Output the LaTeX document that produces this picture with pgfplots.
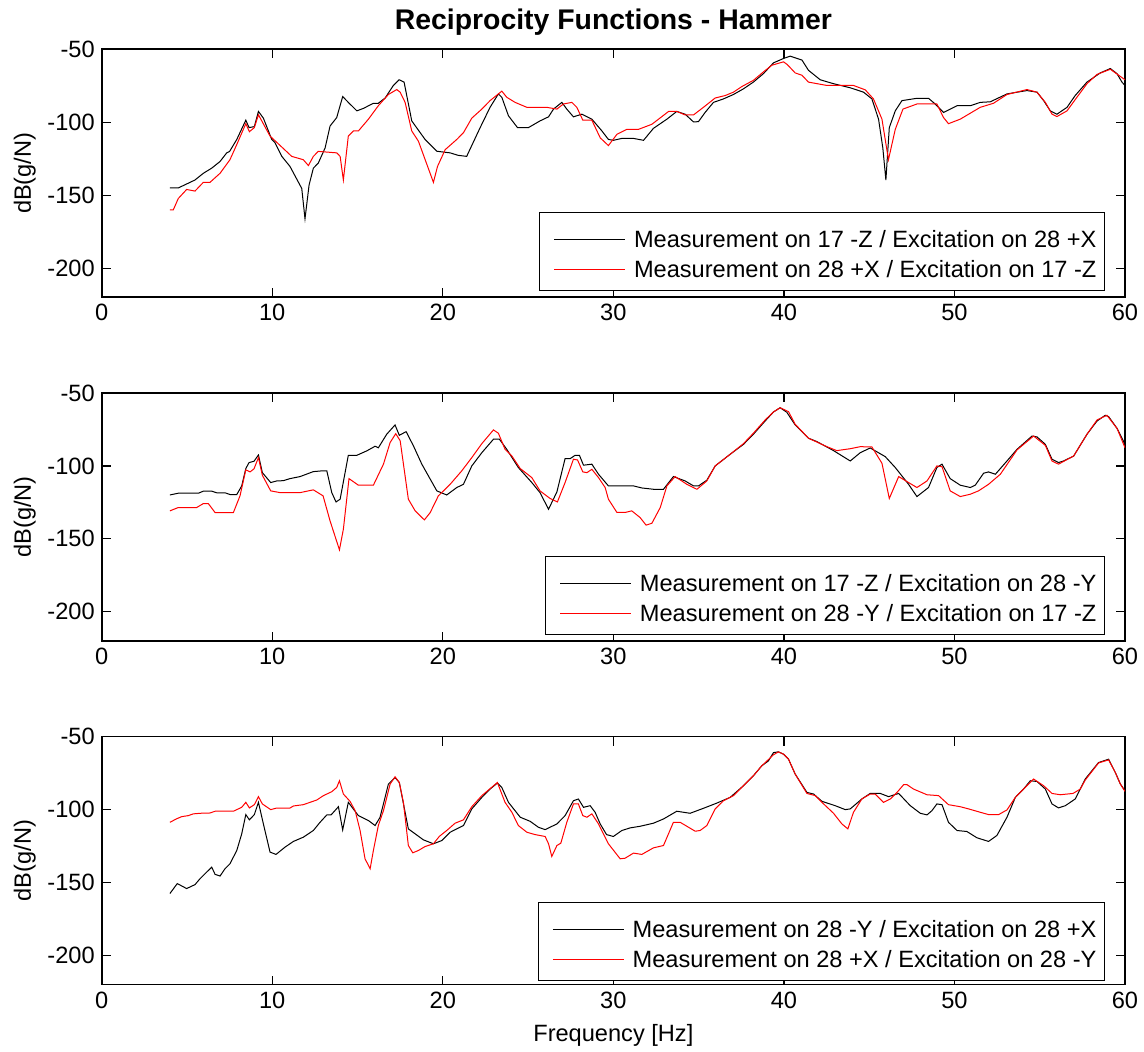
\documentclass[border=0pt]{standalone}
\usepackage{fontspec}
\setmainfont{Liberation Sans}
\usepackage{pgfplots}
\pgfplotsset{compat=1.18}
\newcommand\tf{\fontsize{11.8}{14}\selectfont}
\pgfplotsset{
  myax/.style={
    scale only axis, width=511.65pt, height=124pt, anchor=south west,
    xmin=0, xmax=60, ymin=-220, ymax=-50,
    xtick={0,10,20,30,40,50,60}, xticklabels={0,10,20,30,40,50,60},
    ytick={-200,-150,-100,-50}, yticklabels={-200,-150,-100,-50},
    tick align=inside, major tick length=4.5pt,
    axis line style={line width=0.8pt},
    every tick/.style={black, line width=0.6pt},
    tick label style={font=\tf},
    ylabel={dB(g/N)},
    ylabel style={font=\tf, at={(axis description cs:-0.064,0.5)}, anchor=south, inner sep=0pt},
    legend style={at={(0.9805,0.025)}, anchor=south east, draw=black, line width=0.6pt,
      inner xsep=3pt, inner ysep=5pt, font=\tf, row sep=1pt,
      nodes={text height=12.25pt, text depth=0.75pt, inner ysep=0.5pt, inner xsep=1pt},
      /tikz/every odd column/.append style={column sep=3.2pt}},
    legend cell align=left,
    legend image code/.code={\path (0pt,0pt); \draw[#1,line width=0.5pt] (4pt,-1.5pt) -- (39.5pt,-1.5pt);},
  },
  kline/.style={black, line width=0.5pt, no markers},
  rline/.style={red, line width=0.5pt, no markers},
}
\begin{document}
\begin{tikzpicture}
\path[use as bounding box] (0,0) rectangle (572pt,526pt);
% ---------------- top ----------------
\begin{axis}[myax, at={(50.85pt,377.35pt)},
  title={Reciprocity Functions - Hammer},
  title style={at={(axis description cs:0.5,1)}, anchor=base, yshift=3.65pt, inner sep=0pt,
    font=\bfseries\fontsize{14.2}{16}\selectfont}]
\addplot[kline] coordinates {
(4.0,-145) (4.5,-145) (5.47,-139.6) (5.96,-135) (6.45,-131.5) (6.94,-126.9) (7.33,-121) (7.5,-120)
(7.92,-111.8) (8.45,-98.6) (8.64,-103.7) (8.95,-103) (9.19,-92.6) (9.48,-97.2) (9.97,-111.8) (10.16,-114)
(10.56,-123.4) (11.04,-130.3) (11.73,-145.4) (11.92,-166.2) (12.16,-143) (12.41,-131.5) (12.7,-128)
(13.1,-117.6) (13.39,-102.6) (13.78,-96.8) (14.13,-82.4) (14.46,-86.4) (14.96,-92.2) (15.35,-90.5)
(15.93,-87) (16.22,-87) (16.62,-83.4) (17.1,-74.8) (17.44,-70.9) (17.73,-72.5) (18.18,-99.1) (18.96,-111.8)
(19.65,-119.9) (20.43,-121) (20.9,-122.7) (21.4,-123.4) (22.19,-103.7) (22.77,-89.8) (23.26,-80.6)
(23.46,-82.9) (23.85,-95.6) (24.38,-103.7) (25.02,-103.7) (25.7,-99.1) (26.2,-96.3) (26.49,-91)
(26.98,-86.4) (27.27,-91) (27.66,-96.3) (28.15,-94.5) (28.74,-97.9) (29.33,-106) (29.71,-111.8)
(30.0,-112.4) (30.5,-111.1) (31.18,-111.1) (31.77,-112.4) (32.35,-104.2) (33.14,-97.9) (33.72,-92.6)
(34.21,-94.5) (34.7,-99.8) (34.99,-99.6) (35.38,-93.3) (35.87,-86.4) (36.46,-84) (37.04,-81)
(37.63,-77.1) (38.21,-72.5) (38.8,-66.7) (39.39,-59.3) (39.98,-56.3) (40.37,-54.7) (41.06,-57.4)
(41.44,-64.4) (42.13,-70.9) (42.91,-73.6) (43.89,-76.4) (44.67,-79.4) (45.16,-84) (45.55,-97.9)
(45.8,-117.6) (45.98,-139.6) (46.18,-103.7) (46.53,-92.2) (46.92,-85.2) (47.8,-83.6) (48.48,-83.6)
(48.87,-87.5) (49.36,-93.3) (50.15,-88.7) (50.93,-88.7) (51.51,-86.4) (52.1,-86) (53.08,-80.6)
(54.25,-78.3) (54.84,-79.4) (55.23,-85.2) (55.62,-92.2) (56.01,-94.5) (56.6,-89.8) (57.08,-81.7)
(57.77,-72.5) (58.55,-66.2) (59.14,-63.2) (59.53,-66.7) (59.82,-72.5) (60.0,-74.8)
};
\addlegendentry{Measurement on 17 -Z / Excitation on 28 +X}
\addplot[rline] coordinates {
(4.0,-160) (4.2,-160) (4.49,-152.3) (4.98,-146.1) (5.47,-147.2) (5.96,-141.2) (6.35,-141.2) (6.94,-135)
(7.52,-125.7) (7.92,-115.3) (8.45,-101) (8.66,-106.5) (8.95,-103.7) (9.19,-94.9) (9.87,-109.5)
(10.65,-118) (11.14,-123.4) (11.82,-125.7) (12.12,-129.7) (12.41,-123.4) (12.7,-120) (13.78,-121)
(13.98,-123.4) (14.17,-139.6) (14.46,-109.5) (14.76,-106) (15.05,-106) (15.64,-97.9) (16.22,-88.7)
(16.81,-81) (17.3,-77.6) (17.5,-79.4) (17.79,-86.4) (18.18,-106) (18.57,-113) (19.45,-141.2)
(19.69,-130.3) (20.14,-118.8) (20.82,-111.8) (21.21,-107.2) (21.7,-97.2) (22.29,-91) (22.77,-85.2)
(23.46,-78.7) (23.75,-82.9) (24.24,-86.4) (24.93,-89.8) (26.1,-89.8) (26.69,-91) (27.07,-87.5)
(27.57,-86.4) (27.86,-89.8) (28.21,-98.6) (28.74,-98.6) (29.23,-110.7) (29.71,-116) (30.21,-108.3)
(30.79,-104.9) (31.47,-104.9) (32.26,-101.4) (33.24,-92.6) (33.72,-92.6) (34.21,-95) (34.7,-95)
(35.28,-89.8) (35.97,-83.4) (36.56,-81.7) (37.04,-79.4) (37.54,-75.5) (38.21,-71.3) (38.8,-65.5)
(39.3,-60.9) (39.98,-58.6) (40.2,-60.5) (40.66,-66.2) (41.06,-67.8) (41.44,-72.5) (42.52,-74.8)
(44.08,-74.8) (44.77,-77.8) (45.25,-84) (45.75,-97.9) (46.13,-125.7) (46.53,-104.9) (46.98,-91)
(47.8,-87.5) (48.97,-87.5) (49.36,-96.8) (49.65,-101) (50.34,-97.9) (51.51,-89.8) (52.29,-87)
(53.08,-81) (54.25,-77.6) (54.84,-79.4) (55.33,-86.4) (55.72,-94.5) (56.01,-96.1) (56.6,-92.2)
(57.18,-82.9) (57.77,-73.6) (58.36,-67.2) (59.14,-63.7) (60.0,-70.9)
};
\addlegendentry{Measurement on 28 +X / Excitation on 17 -Z}
\end{axis}
% ---------------- middle ----------------
\begin{axis}[myax, at={(50.85pt,205.5pt)}]
\addplot[kline] coordinates {
(4.0,-119.9) (4.49,-118.7) (5.67,-118.7) (5.96,-117.3) (6.45,-117.3) (6.74,-118.4) (7.23,-118.4)
(7.52,-119.6) (7.92,-119.6) (8.21,-113.7) (8.45,-101.8) (8.64,-97.7) (8.93,-96.8) (9.19,-92.5)
(9.42,-104.6) (9.91,-111.4) (10.26,-110.3) (10.65,-110.1) (11.04,-108.7) (11.63,-107.3) (12.41,-103.9)
(12.9,-103.4) (13.2,-103.4) (13.49,-118.3) (13.74,-124.7) (13.98,-122.8) (14.46,-92.7) (14.96,-92.7)
(15.54,-89.7) (16.03,-86.5) (16.22,-87.6) (16.71,-78.3) (17.2,-71.9) (17.45,-79) (17.85,-76.5)
(18.28,-86.3) (18.77,-98.8) (19.65,-117.1) (20.23,-119.9) (20.82,-114.8) (21.21,-112.6) (21.7,-100)
(22.29,-90.9) (22.97,-81.7) (23.32,-81.7) (23.75,-88.6) (24.43,-101.1) (25.22,-111.4) (25.7,-118.3)
(26.2,-129.7) (26.69,-117.8) (27.17,-95) (27.47,-95) (27.76,-92.7) (28.01,-92.7) (28.25,-99.5)
(28.74,-98.8) (29.13,-105.7) (29.71,-113.7) (31.18,-113.7) (31.67,-115.1) (32.35,-116) (32.94,-116)
(33.52,-107.3) (34.21,-110.3) (34.7,-113.7) (34.99,-113.7) (35.48,-109.8) (35.97,-100) (36.85,-92)
(37.63,-85.2) (38.21,-78.3) (38.9,-69.2) (39.39,-63) (39.78,-60.1) (40.17,-63.2) (40.66,-71.9)
(41.44,-81) (41.93,-83.3) (42.91,-89.5) (43.89,-96.6) (44.48,-90.9) (45.06,-87.7) (45.94,-93.6)
(46.53,-101.1) (47.31,-112.6) (47.8,-121) (48.48,-114.8) (48.97,-101.1) (49.27,-98.8) (49.75,-108.7)
(50.34,-113.2) (50.93,-114.8) (51.22,-113.2) (51.71,-105) (52.0,-104.1) (52.4,-105.7) (53.08,-96.6)
(53.67,-88.6) (54.55,-79.5) (54.84,-80.1) (55.33,-85.2) (55.72,-95.4) (56.1,-97.7) (56.4,-96.6)
(56.99,-93.2) (57.77,-78.3) (58.36,-69.2) (58.84,-65.3) (59.04,-66.2) (59.53,-74.2) (59.92,-83.3)
(60.0,-86.8)
};
\addlegendentry{Measurement on 17 -Z / Excitation on 28 -Y}
\addplot[rline] coordinates {
(4.0,-130.8) (4.49,-128.5) (5.57,-128.5) (5.96,-125.8) (6.25,-125.8) (6.65,-132) (7.72,-132)
(8.11,-120.5) (8.45,-102.7) (8.7,-104.1) (8.93,-102) (9.19,-94.3) (9.42,-106.4) (9.91,-117.1)
(10.46,-118.3) (11.63,-118.3) (12.41,-116.4) (12.98,-120.5) (13.39,-137.7) (13.94,-157.5)
(14.17,-143.4) (14.5,-108.7) (15.05,-113.2) (15.93,-113.2) (16.52,-98.8) (16.91,-84) (17.24,-77.9)
(17.5,-82.7) (17.98,-122.8) (18.38,-130.8) (18.92,-137) (19.26,-132) (19.74,-120.5) (20.43,-112.6)
(21.11,-103.4) (21.7,-94.3) (22.29,-84.7) (22.97,-75.3) (23.26,-77.6) (23.65,-88.6) (24.05,-93.2)
(24.54,-101.8) (25.22,-108) (25.7,-117.1) (26.29,-122.3) (26.72,-124.7) (27.17,-111.4) (27.66,-95.4)
(27.9,-95.9) (28.21,-104.1) (28.45,-104.6) (28.74,-102.3) (29.13,-108) (29.52,-114.8) (29.71,-122.8)
(30.21,-131.9) (30.69,-131.9) (31.08,-130.8) (31.57,-135.4) (31.92,-140.6) (32.26,-139.3)
(32.75,-128.5) (33.14,-113.7) (33.62,-107.3) (34.31,-112.6) (34.9,-116) (35.48,-110.3) (35.97,-100)
(36.85,-92) (37.63,-84.7) (38.21,-77.6) (38.9,-68.5) (39.39,-63) (39.78,-60.1) (40.27,-62.8)
(40.66,-71.4) (41.44,-81) (42.52,-86.8) (43.1,-89.5) (43.89,-88.2) (44.48,-86.8) (45.16,-87)
(45.75,-98.2) (46.18,-122.3) (46.73,-107.3) (47.31,-111.4) (47.8,-114.8) (48.39,-110.3) (48.97,-100)
(49.27,-100.5) (49.75,-117.1) (50.34,-121) (50.93,-119.4) (51.41,-117.1) (52.0,-112.6) (52.69,-105.7)
(53.67,-89) (54.64,-79.5) (55.33,-85.9) (55.72,-96.6) (56.1,-98.8) (56.99,-93.2) (57.77,-78.3)
(58.36,-68.5) (58.94,-65.3) (59.53,-74.2) (60.0,-87.5)
};
\addlegendentry{Measurement on 28 -Y / Excitation on 17 -Z}
\end{axis}
% ---------------- bottom ----------------
\begin{axis}[myax, at={(50.85pt,33.65pt)},
  legend style={at={(0.9805,0.015)}},
  xlabel={Frequency [Hz]},
  xlabel style={font=\tf, at={(axis description cs:0.5,0)}, anchor=base, yshift=-28.4pt, inner sep=0pt}]
\addplot[kline] coordinates {
(4.0,-157.5) (4.43,-150.7) (4.98,-154.1) (5.47,-151.4) (5.77,-147.3) (6.45,-139.4) (6.65,-144.4)
(6.94,-145.5) (7.23,-140.5) (7.52,-137.1) (7.92,-128) (8.21,-116.6) (8.45,-103.4) (8.66,-107)
(8.95,-103.4) (9.19,-95) (9.48,-109.8) (9.87,-129.1) (10.22,-130.7) (10.75,-125.7) (11.24,-121.8)
(11.82,-118.9) (12.41,-114.3) (12.8,-108.7) (13.2,-103.6) (13.45,-103.6) (13.88,-98) (14.13,-113.9)
(14.46,-95) (15.05,-104.1) (15.64,-107.5) (16.03,-110.9) (16.32,-105.3) (16.81,-82.5) (17.2,-78)
(17.45,-81.4) (17.98,-113.2) (18.38,-116.6) (18.86,-120.7) (19.45,-123.4) (19.94,-121.2)
(20.43,-115.5) (21.21,-110.9) (21.7,-99.5) (22.29,-91.6) (22.77,-85.9) (23.2,-81.8) (23.46,-84.8)
(23.85,-95) (24.54,-105.2) (25.12,-108) (25.61,-112.1) (26.0,-113.7) (26.69,-109.8) (27.17,-104.1)
(27.66,-93.9) (27.95,-92.7) (28.25,-98.4) (28.64,-97.3) (28.93,-101.8) (29.23,-109.8) (29.6,-117.1)
(30.0,-118.4) (30.5,-114.3) (30.99,-112.5) (31.57,-111.4) (32.35,-109.3) (32.94,-106.4) (33.72,-101.1)
(34.5,-102.5) (35.28,-99.1) (36.07,-95.5) (36.85,-91.6) (37.63,-83.6) (38.21,-76.8) (38.7,-70)
(39.09,-66.6) (39.39,-60.9) (39.68,-60.4) (39.98,-62) (40.27,-65.4) (40.66,-75.6) (41.35,-88.2)
(41.74,-89.3) (42.23,-94.3) (43.01,-97.3) (43.6,-100) (43.89,-99.5) (44.57,-92.7) (45.06,-88.9)
(45.65,-88.9) (46.14,-91.1) (46.73,-88.9) (47.41,-97.3) (48.0,-102.5) (48.39,-103.6) (48.68,-100.7)
(48.97,-96.1) (49.27,-96.6) (49.65,-108.7) (50.15,-114.3) (50.73,-115) (51.32,-119.3) (52.0,-121.8)
(52.49,-117.7) (53.08,-105.2) (53.57,-91.6) (54.05,-85.9) (54.45,-80.2) (54.84,-80.7) (55.33,-85.9)
(55.72,-96.1) (56.1,-98.8) (56.5,-97.3) (57.08,-92.7) (57.67,-79) (58.45,-67.7) (59.04,-65.4)
(59.43,-74.5) (59.73,-82.5) (60.0,-87)
};
\addlegendentry{Measurement on 28 -Y / Excitation on 28 +X}
\addplot[rline] coordinates {
(4.0,-108.7) (4.37,-106.4) (4.69,-104.8) (5.08,-104.1) (5.37,-102.9) (5.77,-102.5) (6.35,-102.3)
(6.65,-101.1) (7.72,-101.1) (8.21,-98.4) (8.45,-95) (8.66,-98.8) (8.95,-96.6) (9.19,-91.1) (9.42,-96.1)
(9.91,-100) (10.26,-98.9) (11.04,-98.9) (11.24,-97.5) (11.82,-96.6) (12.61,-93.4) (13.0,-90.4)
(13.49,-87.7) (13.78,-84.8) (13.94,-80.2) (14.17,-89.3) (14.56,-94.3) (14.86,-100.7) (15.15,-114.3)
(15.44,-133.7) (15.74,-140.5) (15.93,-128) (16.22,-110.9) (16.52,-100.7) (16.91,-82.5) (17.2,-77.5)
(17.45,-81.4) (17.69,-95) (17.98,-124.6) (18.24,-129.6) (18.57,-128) (18.96,-125.3) (19.45,-123.4)
(19.8,-118.3) (20.23,-114.3) (20.72,-109.3) (21.21,-107) (21.7,-98) (22.29,-90.4) (23.2,-81.4)
(23.65,-95) (24.05,-101.8) (24.43,-110.9) (24.93,-115.5) (25.41,-117.1) (26.0,-118.4) (26.2,-123.4)
(26.39,-132.1) (26.69,-124.6) (26.92,-123) (27.27,-108.7) (27.66,-96.1) (27.95,-96.1) (28.21,-104.1)
(28.45,-105.2) (28.74,-102.9) (29.13,-109.8) (29.71,-123.4) (30.4,-133.7) (30.69,-133.3)
(31.18,-129.8) (31.67,-130.7) (32.35,-126.2) (32.94,-124.6) (33.52,-108.7) (33.92,-108.7)
(34.8,-114.8) (35.09,-114.3) (35.48,-110.9) (35.97,-99.5) (36.46,-93.9) (37.04,-90.4) (37.63,-83.6)
(38.21,-76.8) (38.7,-70) (39.39,-62.4) (39.68,-60.4) (39.98,-62) (40.27,-65.4) (40.66,-75.6)
(41.35,-88.9) (41.84,-90.4) (42.23,-95) (42.91,-102.5) (43.4,-109.8) (43.75,-113.2) (44.08,-101.8)
(44.57,-92.7) (45.06,-89.3) (45.35,-89.3) (45.84,-95) (46.24,-92.7) (46.63,-88.2) (47.02,-82.9)
(47.22,-82.9) (47.6,-85.9) (48.39,-89.8) (49.07,-90.4) (49.65,-96.6) (50.34,-98) (50.83,-99.5)
(51.51,-101.8) (52.0,-103.4) (52.59,-103.4) (53.08,-100.2) (53.57,-91.6) (54.05,-85.9) (54.64,-79)
(55.23,-83.6) (55.72,-88.9) (56.2,-89.8) (56.95,-88.9) (57.38,-85.9) (57.67,-79.7) (58.45,-68)
(59.04,-65.9) (59.43,-74.5) (59.73,-82.5) (60.0,-87.5)
};
\addlegendentry{Measurement on 28 +X / Excitation on 28 -Y}
\end{axis}
\end{tikzpicture}
\end{document}
